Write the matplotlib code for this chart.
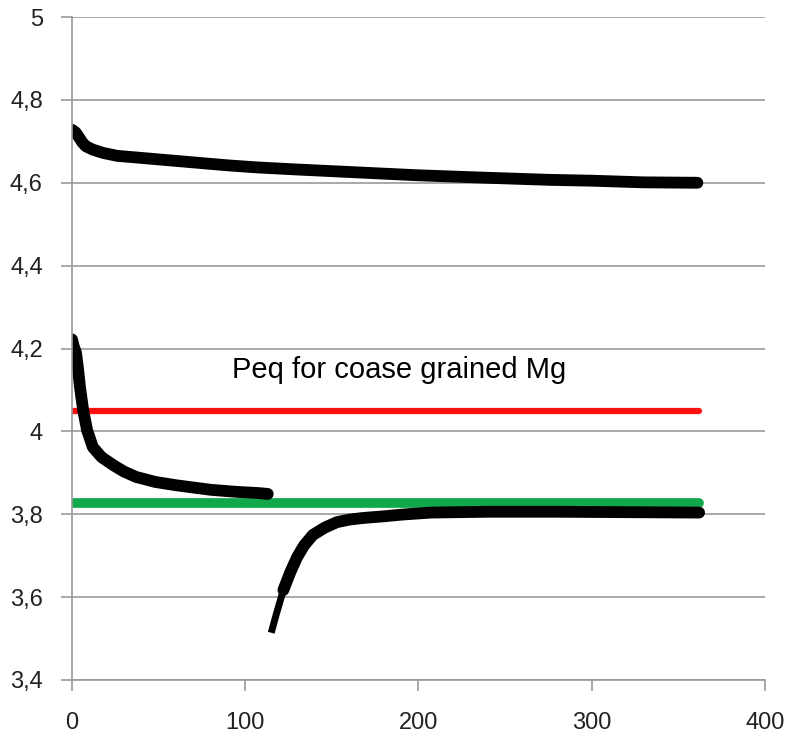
import numpy as np
import matplotlib.pyplot as plt

plt.rcParams['font.family'] = ['Liberation Sans', 'DejaVu Sans']

# pressure curves (time, value)
top_t = [0, 2, 4, 6, 8, 12, 18, 26, 40, 51, 65, 76, 90, 107, 130, 160, 200, 240, 276, 300, 330, 361]
top_p = [4.728, 4.722, 4.71, 4.697, 4.688, 4.680, 4.672, 4.665, 4.660, 4.656, 4.651, 4.647, 4.642,
         4.637, 4.632, 4.626, 4.618, 4.612, 4.607, 4.605, 4.601, 4.600]

mid_t = [0, 1, 2.3, 3.5, 4.6, 6.4, 8.7, 12, 17, 24, 30, 37, 48, 60, 80, 95, 108, 113]
mid_p = [4.222, 4.205, 4.19, 4.15, 4.107, 4.052, 4.003, 3.962, 3.938, 3.918, 3.903, 3.89, 3.878,
         3.87, 3.859, 3.854, 3.851, 3.849]

low_t = [115, 118, 122, 126, 130, 134, 139, 146, 153, 160, 168, 180, 190, 207, 240, 280, 320, 362]
low_p = [3.514, 3.56, 3.617, 3.66, 3.697, 3.725, 3.75, 3.768, 3.781, 3.787, 3.791, 3.795, 3.799,
         3.804, 3.806, 3.806, 3.805, 3.804]

# equilibrium levels
peq_coarse = 4.05
peq_green = 3.828
level_t = [0, 362]

fig = plt.figure(figsize=(7.87, 7.34), dpi=100)
ax = fig.add_axes([0.0915, 0.0736, 0.8805, 0.9032])

ax.set_xlim(0, 400)
ax.set_ylim(3.4, 5.0)
ax.set_xticks(np.arange(0, 401, 100))
ax.set_yticks(np.round(np.arange(3.4, 5.01, 0.2), 1))
ax.set_yticklabels([('%g' % v).replace('.', ',') for v in ax.get_yticks()])
ax.yaxis.grid(True, color='#9a9a9a', linewidth=1.2)
ax.set_axisbelow(True)

for s in ['top', 'right']:
    ax.spines[s].set_visible(False)
for s in ['left', 'bottom']:
    ax.spines[s].set_color('#9a9a9a')
    ax.spines[s].set_linewidth(1.2)
ax.tick_params(colors='#9a9a9a', length=8, width=1.2, labelsize=17, labelcolor='#222222')
ax.tick_params(axis='x', pad=15)
ax.tick_params(axis='y', pad=13)

ax.plot(level_t, [peq_coarse] * 2, color='#ff1010', lw=4.5, solid_capstyle='round')
ax.plot(level_t, [peq_green] * 2, color='#10a84a', lw=7, solid_capstyle='round')

kw = dict(color='black', lw=8.5, solid_capstyle='round', solid_joinstyle='round')
ax.plot(top_t, top_p, **kw)
ax.plot(mid_t, mid_p, **kw)
# thin tail at the start of the lower curve
ax.plot(low_t[:4], low_p[:4], color='black', lw=5, solid_capstyle='butt')
ax.plot(low_t[2:], low_p[2:], **kw)

ax.text(188.7, 4.129, 'Peq for coase grained Mg', fontsize=21, ha='center', va='baseline')

fig.savefig('out.png', dpi=100)
